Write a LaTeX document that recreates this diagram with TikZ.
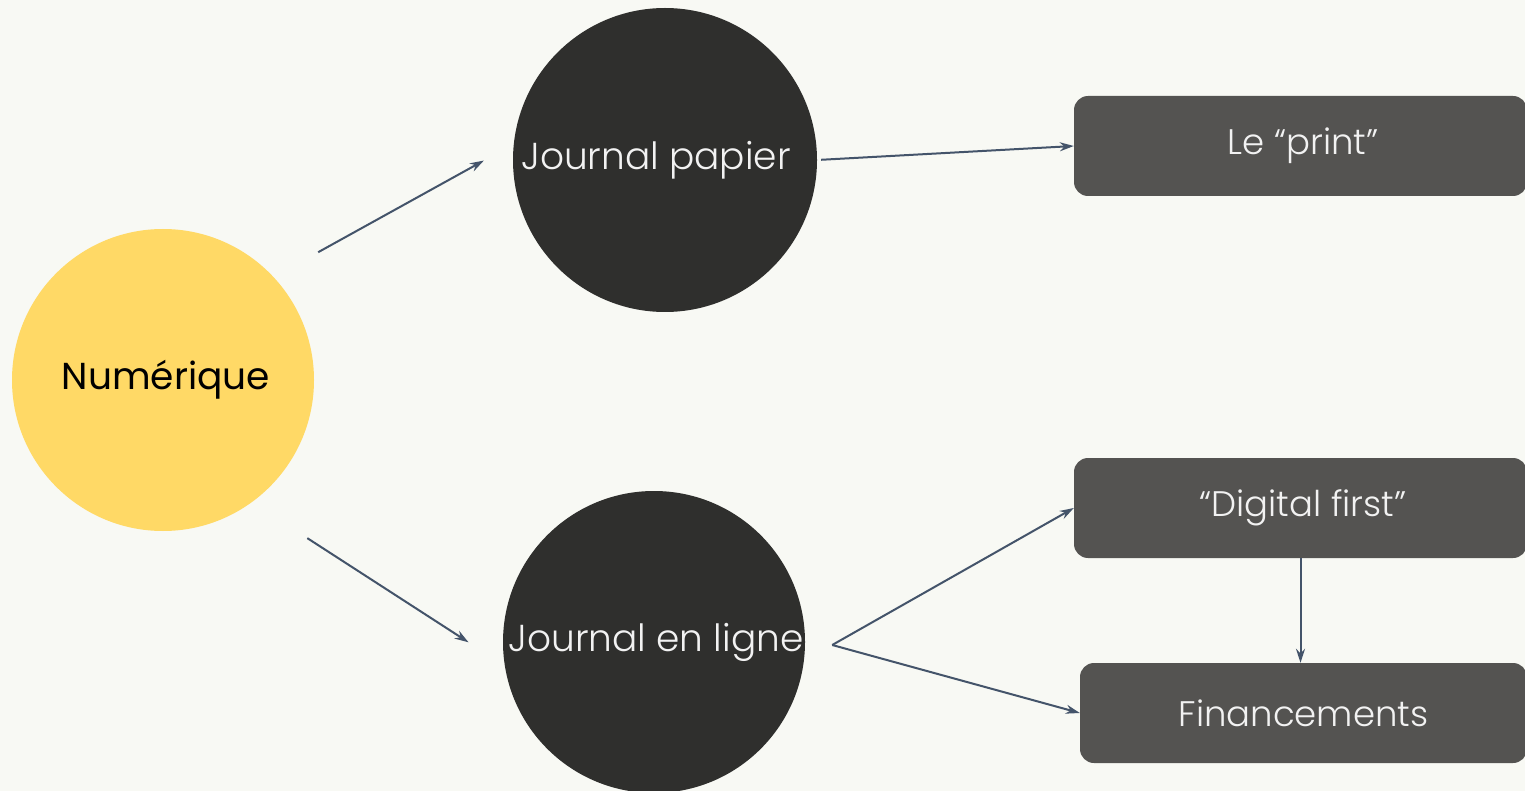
\documentclass[tikz,border=0pt]{standalone}
\usepackage{fontspec}
\setmainfont{Poppins}
\newfontfamily\legere{Poppins Light}
\usetikzlibrary{arrows.meta}
\definecolor{bgcol}{HTML}{F8F9F4}
\definecolor{numyellow}{HTML}{FFD966}
\definecolor{circdark}{HTML}{2F2F2D}
\definecolor{boxgrey}{HTML}{545351}
\definecolor{arrowblue}{HTML}{44546A}
\definecolor{lighttext}{HTML}{F2F2F2}
\begin{document}
\begin{tikzpicture}
  [x=1pt,y=-1pt,every node/.style={inner sep=0pt,font=\fontsize{37.5}{44}\selectfont}]
  \tikzstyle{rond} = [circle,fill=circdark,text=lighttext,font=\legere\fontsize{37.5}{44}\selectfont]
  \tikzstyle{boite} = [rectangle,rounded corners=14pt,fill=boxgrey,text=lighttext,minimum height=100pt,font=\legere\fontsize{35.5}{42}\selectfont]
  \tikzstyle{fleche} = [draw=arrowblue,line width=2pt,-{Stealth[length=14pt,width=9pt]}]
  \fill[bgcol] (0,0) rectangle (1525,791);
  \useasboundingbox (0,0) rectangle (1525,791);
  \node[circle,fill=numyellow,minimum size=302pt] (num) at (163,380) {\raisebox{4pt}{Numérique}\hspace*{-6pt}};
  \node[rond,minimum size=304pt] (pap) at (665,160) {Journal papier\hspace*{18pt}};
  \node[rond,minimum size=302pt] (enl) at (654,642) {\hspace*{4pt}Journal en ligne};
  \node[boite,minimum width=453pt] (print) at (1300.5,146) {\hspace*{5pt}Le “print”};
  \node[boite,minimum width=453pt] (dig) at (1300.5,508) {\hspace*{5pt}“Digital first”};
  \node[boite,minimum width=447pt] (fin) at (1303.5,713) {Financements};
  \coordinate (fork) at ([xshift=27pt,yshift=-3pt]enl.east);
\foreach \source/\dest/\sa/\sb in {num.43/pap.174/51pt/34pt,num.-54/enl.-171/66pt/43pt,pap.east/print.west/4pt/0pt}
   \draw[fleche,shorten <=\sa,shorten >=\sb] (\source) -- (\dest);
  \draw[fleche] (fork) -- (dig.west);
  \draw[fleche] (fork) -- (fin.west);
  \draw[fleche] (dig.south) -- (dig.south |- fin.north);
\end{tikzpicture}
\end{document}
